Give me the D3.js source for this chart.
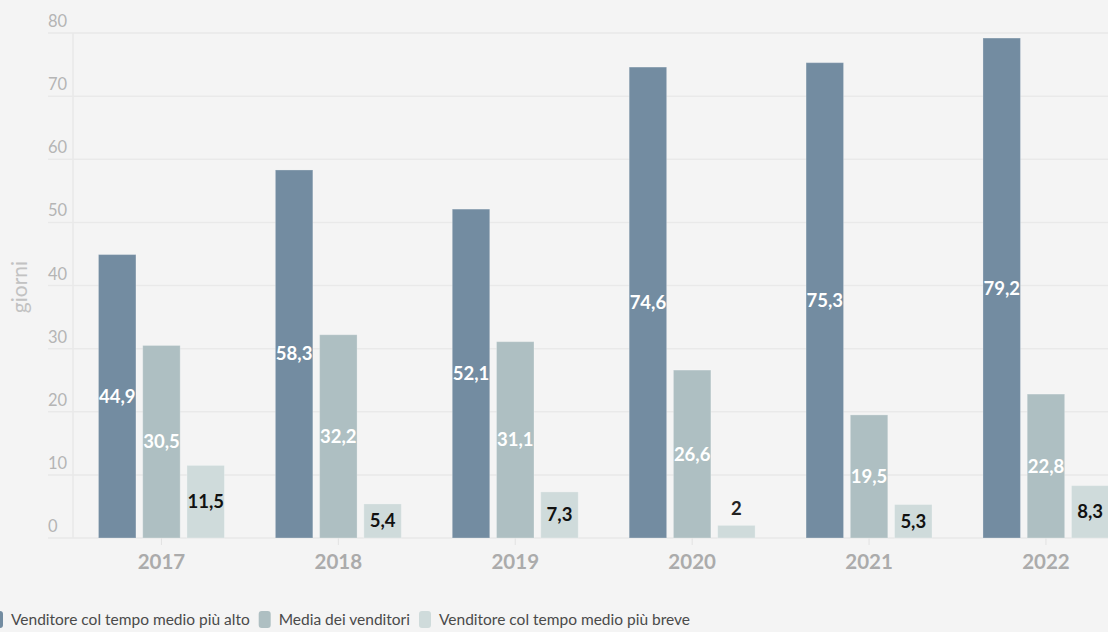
<!DOCTYPE html>
<html>
<head>
<meta charset="utf-8">
<script src="https://cdn.jsdelivr.net/npm/d3@7"></script>
<style>
  html, body { margin: 0; padding: 0; background: #f4f4f4; overflow: hidden; }
  svg { display: block; }
</style>
</head>
<body>
<svg id="chart" width="1108" height="632"></svg>
<script>
const years = ["2017", "2018", "2019", "2020", "2021", "2022"];
const seriesNames = ["Venditore col tempo medio più alto", "Media dei venditori", "Venditore col tempo medio più breve"];
const highest = [44.9, 58.3, 52.1, 74.6, 75.3, 79.2];
const average = [30.5, 32.2, 31.1, 26.6, 19.5, 22.8];
const lowest = [11.5, 5.4, 7.3, 2, 5.3, 8.3];
const yTicks = [0, 10, 20, 30, 40, 50, 60, 70, 80];
const colors = ["#738ca1", "#aebfc2", "#cfdbdb"];
const labelColors = ["#ffffff", "#ffffff", "#111111"];

(function () {
const seriesValues = [highest, average, lowest];
const svg = d3.select("#chart");
const W = 1108, H = 632;
const plotLeft = 73, plotTop = 33, plotBottom = 538;
const fontMain = "'Source Sans Pro', Lato, 'Noto Sans', sans-serif";

svg.append("rect").attr("width", W).attr("height", H).attr("fill", "#f4f4f4");

const y = d3.scaleLinear().domain([0, 80]).range([plotBottom, plotTop]);
const x0 = d3.scaleBand().domain(years).range([plotLeft, plotLeft + 6 * 176.9])
  .paddingInner(0.288).paddingOuter(0.144);
const x1 = d3.scaleBand().domain([0, 1, 2]).range([0, x0.bandwidth()]).paddingInner(0.153).paddingOuter(0);

// gridlines
svg.append("g").selectAll("line").data(yTicks).join("line")
  .attr("x1", 48).attr("x2", W)
  .attr("y1", d => y(d)).attr("y2", d => y(d))
  .attr("stroke", "#e9e9e9").attr("stroke-width", 1.5);
svg.append("line").attr("x1", plotLeft).attr("x2", plotLeft).attr("y1", plotTop).attr("y2", plotBottom)
  .attr("stroke", "#e9e9e9").attr("stroke-width", 1.5);

// y tick labels
svg.append("g").selectAll("text").data(yTicks).join("text")
  .attr("x", 48).attr("y", d => y(d) - 6)
  .attr("fill", "#b5b5b5").attr("font-family", fontMain).attr("font-size", 16.5)
  .text(d => d);

// y title
svg.append("text").attr("transform", "translate(27,287) rotate(-90)")
  .attr("text-anchor", "middle").attr("fill", "#c2c2c2")
  .attr("font-family", fontMain).attr("font-size", 21).text("giorni");

// x axis ticks + labels
const xAxis = svg.append("g");
xAxis.selectAll("line").data(years).join("line")
  .attr("x1", d => x0(d) + x0.bandwidth() / 2).attr("x2", d => x0(d) + x0.bandwidth() / 2)
  .attr("y1", plotBottom).attr("y2", plotBottom + 7).attr("stroke", "#e2e2e2").attr("stroke-width", 1);
xAxis.selectAll("text").data(years).join("text")
  .attr("x", d => x0(d) + x0.bandwidth() / 2).attr("y", 569)
  .attr("text-anchor", "middle").attr("fill", "#ababab")
  .attr("font-family", fontMain).attr("font-weight", 700).attr("font-size", 20.5)
  .text(d => d);

// bars
const barData = [];
years.forEach((yr, i) => {
  seriesValues.forEach((vals, s) => barData.push({ year: yr, s, v: vals[i] }));
});
const fmt = v => String(v).replace(".", ",");

svg.append("g").selectAll("rect").data(barData).join("rect")
  .attr("x", d => x0(d.year) + x1(d.s))
  .attr("width", x1.bandwidth())
  .attr("y", d => y(d.v))
  .attr("height", d => plotBottom - y(d.v))
  .attr("fill", d => colors[d.s])
  .attr("stroke", "rgba(255,255,255,0.25)").attr("stroke-width", 1);

svg.append("g").selectAll("text").data(barData).join("text")
  .attr("x", d => x0(d.year) + x1(d.s) + x1.bandwidth() / 2)
  .attr("y", d => {
    const h = plotBottom - y(d.v);
    return h > 24 ? (y(d.v) + plotBottom) / 2 : y(d.v) - 17;
  })
  .attr("dy", "0.35em")
  .attr("text-anchor", "middle")
  .attr("fill", d => (plotBottom - y(d.v) > 24 ? labelColors[d.s] : "#222222"))
  .attr("font-family", fontMain).attr("font-weight", 700).attr("font-size", 18.5)
  .text(d => fmt(d.v));

// legend
const legend = svg.append("g").attr("transform", "translate(0,620)");
let lx = -9;
seriesNames.forEach((name, i) => {
  legend.append("rect").attr("x", lx).attr("y", -9).attr("width", 12).attr("height", 17)
    .attr("rx", 3).attr("fill", colors[i]);
  const t = legend.append("text").attr("x", lx + 20).attr("y", 0).attr("dy", "0.35em")
    .attr("fill", "#4a4a4a").attr("font-family", fontMain).attr("font-size", 15.5)
    .text(name);
  lx += 20 + t.node().getComputedTextLength() + 9;
});
})();
</script>
</body>
</html>
